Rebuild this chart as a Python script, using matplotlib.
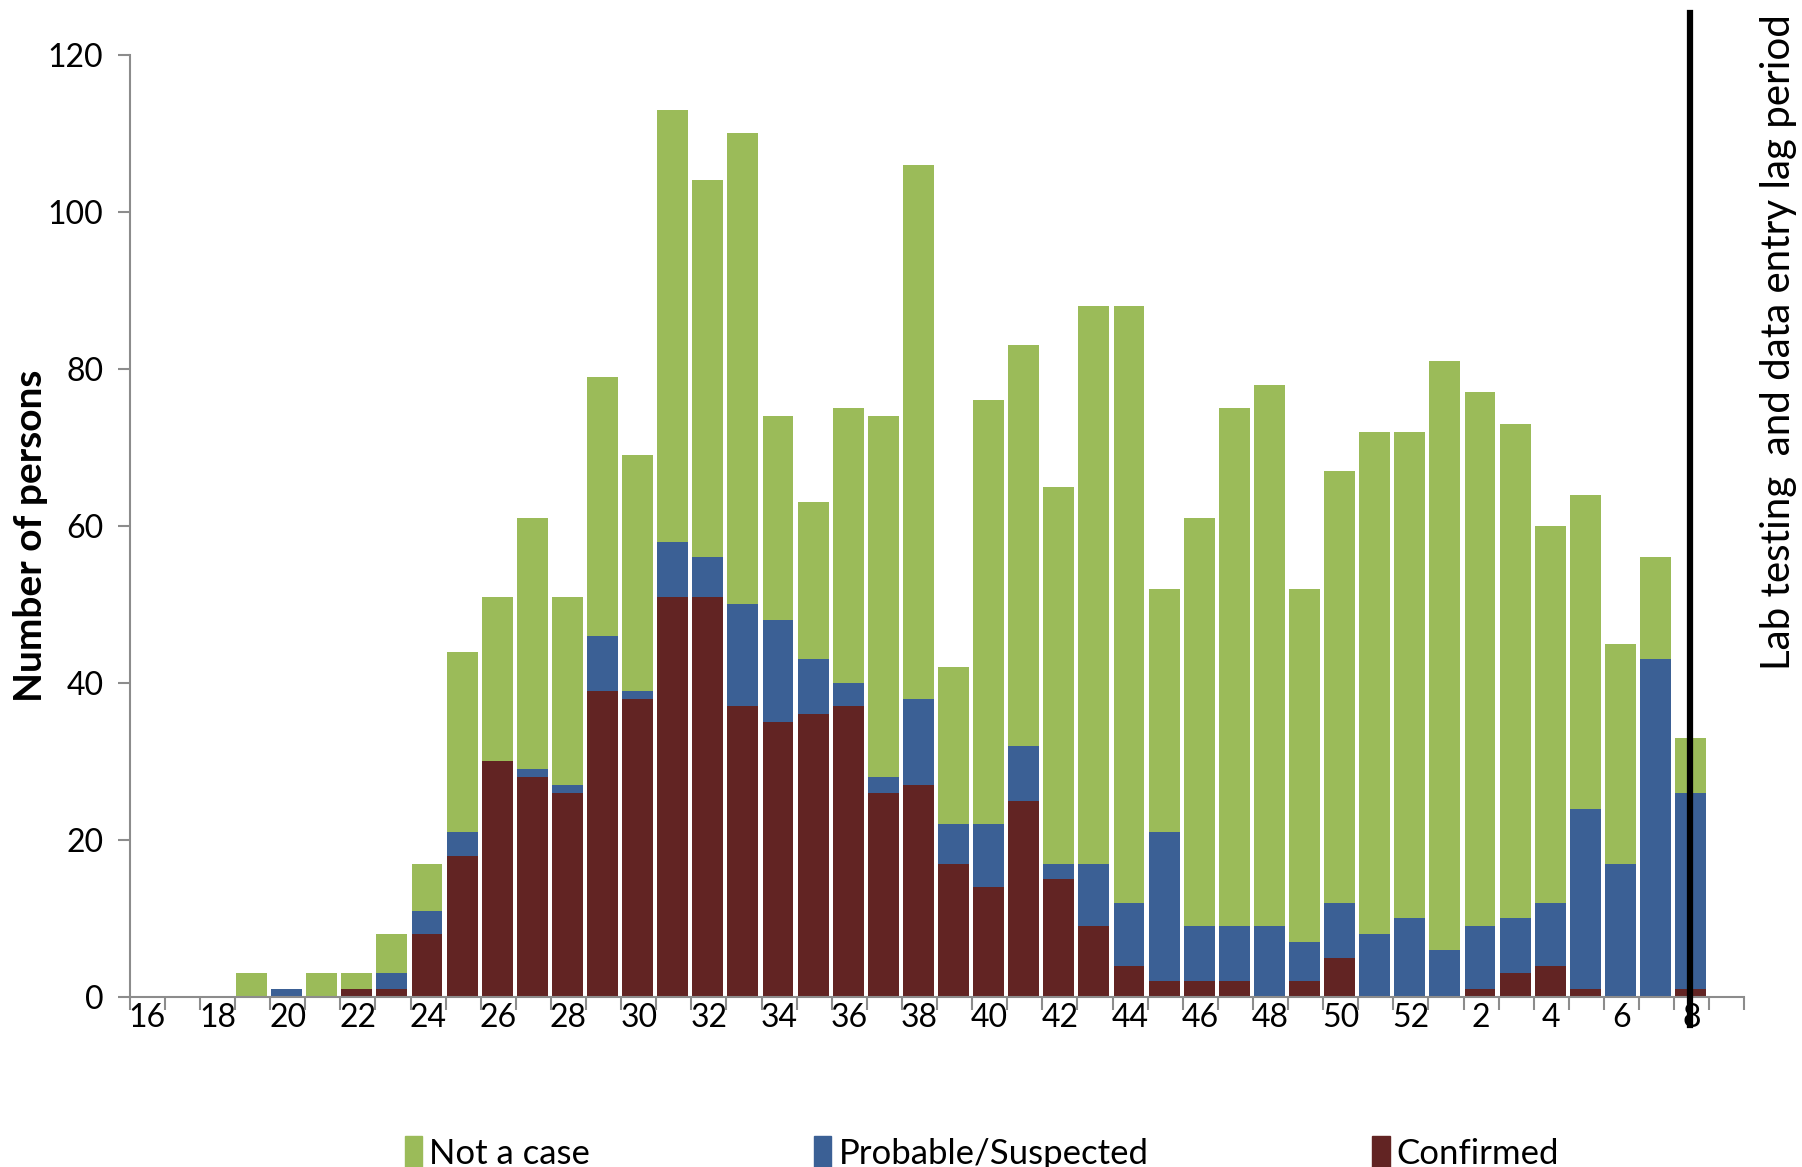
import matplotlib.pyplot as plt
import numpy as np
from matplotlib.patches import Patch

weeks = list(range(16, 53)) + list(range(1, 10))
confirmed = [0, 0, 0, 0, 0, 0, 1, 1, 8, 18, 30, 28, 26, 39, 38, 51, 51, 37, 35, 36,
             37, 26, 27, 17, 14, 25, 15, 9, 4, 2, 2, 2, 0, 2, 5, 0, 0, 0, 1, 3,
             4, 1, 0, 0, 1, 0]
probable = [0, 0, 0, 0, 1, 0, 0, 2, 3, 3, 0, 1, 1, 7, 1, 7, 5, 13, 13, 7,
            3, 2, 11, 5, 8, 7, 2, 8, 8, 19, 7, 7, 9, 5, 7, 8, 10, 6, 8, 7,
            8, 23, 17, 43, 25, 0]
not_case = [0, 0, 0, 3, 0, 3, 2, 5, 6, 23, 21, 32, 24, 33, 30, 55, 48, 60, 26, 20,
            35, 46, 68, 20, 54, 51, 48, 71, 76, 31, 52, 66, 69, 45, 55, 64, 62, 75, 68, 63,
            48, 40, 28, 13, 7, 0]
lag_week_idx = 44

plt.rcParams['font.family'] = ['Lato', 'DejaVu Sans']

green = '#9BBB59'
blue = '#3B6095'
red = '#622423'

fig = plt.figure(figsize=(18.02, 11.67), dpi=100)
ax = fig.add_axes([0.072, 0.1457, 0.896, 0.8073])

x = np.arange(len(weeks)) - 0.03
conf = np.array(confirmed)
prob = np.array(probable)
notc = np.array(not_case)
w = 0.88
ax.bar(x, conf, width=w, color=red, linewidth=0)
ax.bar(x, prob, width=w, bottom=conf, color=blue, linewidth=0)
ax.bar(x, notc, width=w, bottom=conf + prob, color=green, linewidth=0)

ax.set_xlim(-0.5, len(weeks) - 0.5)
ax.set_ylim(0, 120)
ax.set_yticks(range(0, 121, 20))
ax.set_xticks(np.arange(0, len(weeks), 2))
ax.set_xticklabels([str(weeks[i]) for i in range(0, len(weeks), 2)])
ax.set_xticks(np.arange(-0.5, len(weeks), 1), minor=True)
ax.tick_params(axis='x', which='major', length=0, labelsize=23, pad=4)
ax.tick_params(axis='x', which='minor', length=9, width=1.5, color='#8c8c8c')
ax.tick_params(axis='y', length=9, width=1.5, color='#8c8c8c', labelsize=23, pad=10)

for s in ['top', 'right']:
    ax.spines[s].set_visible(False)
for s in ['left', 'bottom']:
    ax.spines[s].set_color('#8c8c8c')
    ax.spines[s].set_linewidth(1.5)

fig.text(0.017, 0.541, 'Number of persons', rotation=90, ha='center', va='center',
         fontsize=28, fontweight='bold')

# lag period marker
ax.plot([lag_week_idx - 0.05] * 2, [-3.6, 125.3], color='black', linewidth=4.5, clip_on=False, zorder=5)
fig.text(0.987, 0.707, 'Lab testing  and data entry lag period', rotation=90,
         ha='center', va='center', fontsize=29)

handles = [Patch(color=green), Patch(color=blue), Patch(color=red)]
fig.legend(handles, ['Not a case', 'Probable/Suspected', 'Confirmed'], ncol=3,
           loc='center', bbox_to_anchor=(0.545, 0.012), frameon=False, fontsize=25,
           handlelength=0.5, handleheight=1.0, handletextpad=0.2, columnspacing=6.45)

fig.savefig('out.png', dpi=100)
